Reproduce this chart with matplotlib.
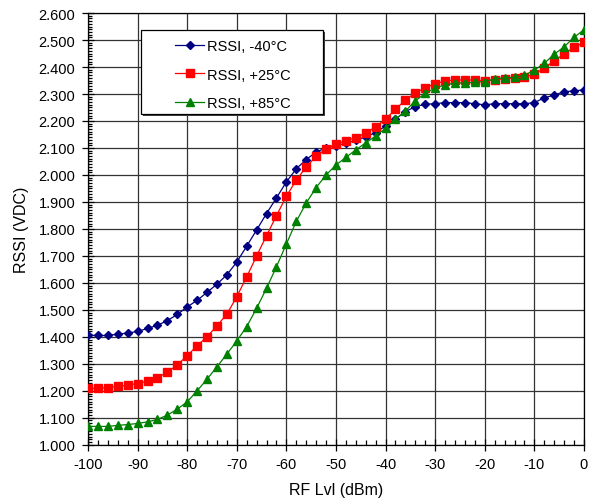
import numpy as np
import matplotlib
matplotlib.use("Agg")
import matplotlib.pyplot as plt
from matplotlib.patches import Rectangle
from matplotlib.ticker import MultipleLocator, FormatStrFormatter

plt.rcParams['font.family'] = ['Liberation Sans', 'DejaVu Sans']
plt.rcParams['axes.unicode_minus'] = False

rf_level = list(range(-100, 1, 2))

rssi_m40 = [1.406, 1.405, 1.405, 1.410, 1.414, 1.420, 1.431, 1.443, 1.460, 1.483,
            1.511, 1.535, 1.565, 1.595, 1.630, 1.677, 1.736, 1.796, 1.857, 1.915,
            1.974, 2.023, 2.057, 2.085, 2.100, 2.108, 2.118, 2.128, 2.142, 2.157,
            2.181, 2.207, 2.235, 2.253, 2.262, 2.264, 2.268, 2.268, 2.268, 2.264,
            2.260, 2.264, 2.264, 2.264, 2.264, 2.268, 2.286, 2.296, 2.309, 2.311,
            2.316]

rssi_p25 = [1.209, 1.209, 1.212, 1.216, 1.221, 1.227, 1.235, 1.249, 1.269, 1.296,
            1.330, 1.367, 1.400, 1.441, 1.484, 1.549, 1.622, 1.700, 1.775, 1.849,
            1.921, 1.981, 2.030, 2.069, 2.097, 2.115, 2.127, 2.138, 2.156, 2.178,
            2.207, 2.243, 2.278, 2.304, 2.323, 2.338, 2.348, 2.352, 2.352, 2.352,
            2.349, 2.353, 2.356, 2.359, 2.363, 2.373, 2.396, 2.423, 2.448, 2.473,
            2.491]

rssi_p85 = [1.068, 1.068, 1.068, 1.072, 1.075, 1.079, 1.085, 1.094, 1.110, 1.132,
            1.159, 1.200, 1.243, 1.289, 1.336, 1.385, 1.438, 1.506, 1.580, 1.660,
            1.744, 1.828, 1.896, 1.953, 2.000, 2.037, 2.065, 2.093, 2.119, 2.144,
            2.173, 2.206, 2.237, 2.275, 2.302, 2.323, 2.333, 2.341, 2.341, 2.344,
            2.346, 2.356, 2.360, 2.362, 2.370, 2.388, 2.414, 2.447, 2.475, 2.510,
            2.538]

labels = ["RSSI, -40°C", "RSSI, +25°C", "RSSI, +85°C"]

fig = plt.figure(figsize=(5.89, 5.02), dpi=100)
ax = fig.add_axes([0.1494, 0.112, 0.842, 0.860])

ax.plot(rf_level, rssi_m40, color='#000080', marker='D', markersize=4.5,
        linewidth=0.9, label=labels[0], zorder=3)
ax.plot(rf_level, rssi_p25, color='#FF0000', marker='s', markersize=5.5,
        linewidth=0.9, label=labels[1], zorder=4)
ax.plot(rf_level, rssi_p85, color='#008000', marker='^', markersize=6,
        linewidth=0.9, label=labels[2], zorder=5)

ax.set_xlim(-100, 0)
ax.set_ylim(1.0, 2.6)
ax.xaxis.set_major_locator(MultipleLocator(10))
ax.xaxis.set_minor_locator(MultipleLocator(2))
ax.yaxis.set_major_locator(MultipleLocator(0.1))
ax.yaxis.set_minor_locator(MultipleLocator(0.01))
ax.yaxis.set_major_formatter(FormatStrFormatter('%.3f'))

ax.grid(True, which='major', color='#333333', linewidth=0.9)
ax.tick_params(axis='x', which='major', direction='inout', length=8, width=0.9,
               labelsize=10.5, pad=5)
ax.tick_params(axis='x', which='minor', direction='in', length=3.5, width=0.9)
ax.tick_params(axis='y', which='major', direction='inout', length=8, width=0.9,
               labelsize=10.5, pad=5)
ax.tick_params(axis='y', which='minor', direction='in', length=3, width=0.9)
for s in ax.spines.values():
    s.set_linewidth(0.9)
    s.set_color('black')

ax.set_xlabel("RF Lvl (dBm)", fontsize=11.5, labelpad=8)
ax.set_ylabel("RSSI (VDC)", fontsize=11.5, labelpad=7)

# legend box with drop shadow
ax.add_patch(Rectangle((0.111, 0.761), 0.367, 0.195, transform=ax.transAxes,
                       facecolor='#404040', edgecolor='none', zorder=7))
ax.add_patch(Rectangle((0.107, 0.766), 0.367, 0.195, transform=ax.transAxes,
                       facecolor='white', edgecolor='black', linewidth=0.9,
                       zorder=8))
leg = ax.legend(loc='upper left', bbox_to_anchor=(0.176, 0.940), fontsize=10.5,
                frameon=False, borderpad=0, labelspacing=1.0,
                handlelength=2.0, handletextpad=0.15, borderaxespad=0)
leg.set_zorder(9)

fig.savefig("out.png", dpi=100)
